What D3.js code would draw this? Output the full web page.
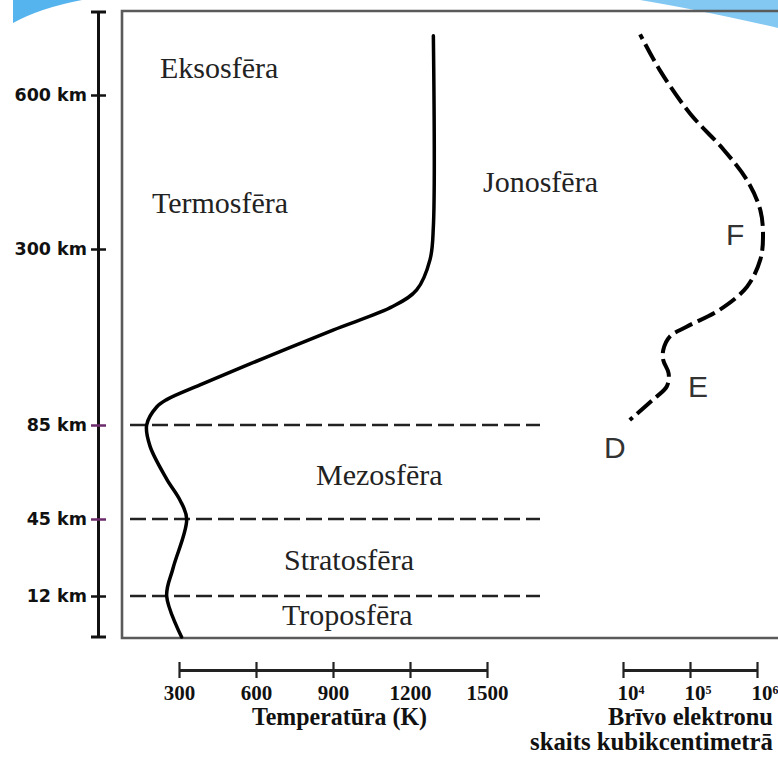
<!DOCTYPE html>
<html>
<head>
<meta charset="utf-8">
<script src="https://cdn.jsdelivr.net/npm/d3@7"></script>
<style>
  body { margin: 0; background: #fff; }
  svg { display: block; }
  .region { font-family: 'Liberation Serif', serif; font-size: 30px; fill: #222; }
  .layer { font-family: 'Liberation Sans', sans-serif; font-size: 30px; fill: #333; }
  .alt-label { font-family: 'DejaVu Sans', sans-serif; font-weight: bold; font-size: 17.5px; }
  .x-axis text { font-family: 'Liberation Serif', serif; font-weight: bold; font-size: 21px; fill: #111; }
  .x-title { font-family: 'Liberation Serif', serif; font-weight: bold; font-size: 25px; fill: #111; }
</style>
</head>
<body>
<div id="chart"></div>
<script>
// altitude ticks (km) on the left ruler
const altTicks = [12, 45, 85, 300, 600];
const altPurple = [45, 85];

// temperature profile: altitude (km) / temperature (K)
const tempAlt = [0, 12, 24, 45, 53, 62, 76, 85, 107, 116, 134, 168, 201, 230, 250, 287, 343, 714];
const tempK = [310, 252, 277, 330, 304, 252, 187, 174, 213, 252, 382, 641, 900, 1134, 1226, 1278, 1291, 1291];

// electron density profile: altitude (km) / electrons per cm3
const elecAlt = [91, 116, 132, 148, 164, 177, 193, 205, 226, 254, 287, 324, 376, 434, 493, 564, 649, 717];
const elecN = [12600, 28000, 45000, 48000, 40000, 40000, 50000, 89000, 280000, 710000, 1120000, 1230000, 1120000, 710000, 320000, 100000, 35000, 18000];

const tempTicks = [300, 600, 900, 1200, 1500];
const elecTicks = [1e4, 1e5, 1e6];
const elecExp = ['4', '5', '6'];

// layer boundaries drawn as dashed lines
const boundaries = [12, 45, 85];

const regions = [
  { name: 'Eksosfēra', alt: 633, x: 160 },
  { name: 'Termosfēra', alt: 371, x: 152 },
  { name: 'Jonosfēra', alt: 411, x: 483 },
  { name: 'Mezosfēra', alt: 59.5, x: 316 },
  { name: 'Stratosfēra', alt: 23, x: 284 },
  { name: 'Troposfēra', alt: 3.5, x: 282 }
];
const layers = [
  { name: 'F', alt: 308, x: 726 },
  { name: 'E', alt: 119, x: 688 },
  { name: 'D', alt: 71, x: 604 }
];

const width = 778;
const height = 757;

const svg = d3
  .select('#chart')
  .append('svg')
  .attr('width', width)
  .attr('height', height);

// slide decoration in the corners
svg
  .append('path')
  .attr('d', 'M13,0 L82,0 Q40,8 13,23 Z')
  .attr('fill', '#55b4ee');
svg
  .append('path')
  .attr('d', 'M640,0 L778,0 L778,28 Q700,10 640,0 Z')
  .attr('fill', '#82c8f3');

// piecewise altitude scale (the ruler is not linear)
const yScale = d3
  .scaleLinear()
  .domain([0, 12, 45, 85, 300, 600, 760])
  .range([637, 596, 519, 425, 249, 95, 12]);

const xTemp = d3.scaleLinear().domain([300, 1500]).range([179, 487]);
const xElec = d3.scaleLog().domain([1e4, 1e6]).range([623, 757]);

// plot frame
svg
  .append('path')
  .attr('d', `M${width + 5},${yScale(760) - 1} L122,${yScale(760) - 1} L122,${yScale(0) + 1} L${width + 5},${yScale(0) + 1}`)
  .attr('fill', 'none')
  .attr('stroke', '#5a5a5a')
  .attr('stroke-width', 2.6);

// left altitude ruler
const ruler = svg
  .append('g')
  .attr('class', 'alt-axis')
  .attr('transform', 'translate(98,0)')
  .call(
    d3.axisLeft(yScale)
      .tickValues(altTicks)
      .tickSize(8)
      .tickSizeOuter(0)
      .tickFormat((d) => `${d} km`)
  );
ruler.select('.domain').attr('stroke', '#111').attr('stroke-width', 3);
ruler
  .selectAll('.tick line')
  .attr('x1', -7)
  .attr('x2', 8)
  .attr('stroke-width', 2.5)
  .attr('stroke', (d) => (altPurple.includes(d) ? '#6b2a6b' : '#111'));
ruler
  .selectAll('.tick text')
  .attr('class', 'alt-label')
  .attr('x', -11)
  .attr('fill', '#111');
ruler
  .selectAll('.cap')
  .data([760, 0])
  .enter()
  .append('line')
  .attr('class', 'cap')
  .attr('x1', -7)
  .attr('x2', 8)
  .attr('y1', (d) => yScale(d))
  .attr('y2', (d) => yScale(d))
  .attr('stroke', '#111')
  .attr('stroke-width', 3);

// layer boundaries
svg
  .selectAll('.boundary')
  .data(boundaries)
  .enter()
  .append('line')
  .attr('class', 'boundary')
  .attr('x1', 130)
  .attr('x2', 540)
  .attr('y1', (d) => yScale(d))
  .attr('y2', (d) => yScale(d))
  .attr('stroke', '#222')
  .attr('stroke-width', 2.6)
  .attr('stroke-dasharray', '16,6');

// region names
svg
  .selectAll('.region')
  .data(regions)
  .enter()
  .append('text')
  .attr('class', 'region')
  .attr('x', (d) => d.x)
  .attr('y', (d) => yScale(d.alt))
  .text((d) => d.name);

svg
  .selectAll('.layer')
  .data(layers)
  .enter()
  .append('text')
  .attr('class', 'layer')
  .attr('x', (d) => d.x)
  .attr('y', (d) => yScale(d.alt))
  .text((d) => d.name);

// temperature curve
const tempLine = d3
  .line()
  .x((d) => xTemp(d[1]))
  .y((d) => yScale(d[0]))
  .curve(d3.curveCatmullRom.alpha(0.5));

svg
  .append('path')
  .datum(tempAlt.map((a, i) => [a, tempK[i]]))
  .attr('d', tempLine)
  .attr('fill', 'none')
  .attr('stroke', '#000')
  .attr('stroke-width', 3.5)
  .attr('stroke-linecap', 'round');

// electron density curve
const elecLine = d3
  .line()
  .x((d) => xElec(d[1]))
  .y((d) => yScale(d[0]))
  .curve(d3.curveCatmullRom.alpha(0.5));

svg
  .append('path')
  .datum(elecAlt.map((a, i) => [a, elecN[i]]))
  .attr('d', elecLine)
  .attr('fill', 'none')
  .attr('stroke', '#000')
  .attr('stroke-width', 4)
  .attr('stroke-dasharray', '19,6')
  .attr('stroke-dashoffset', 15);

// bottom axes
function styleBottomAxis(g) {
  g.select('.domain').attr('stroke', '#222').attr('stroke-width', 2.8);
  g.selectAll('.tick line').attr('y1', -8).attr('y2', 8).attr('stroke', '#222').attr('stroke-width', 2.2);
  g.selectAll('.tick text').attr('y', 30).attr('dy', 0);
}

const tempAxis = svg
  .append('g')
  .attr('class', 'x-axis')
  .attr('transform', 'translate(0,670)')
  .call(d3.axisBottom(xTemp).tickValues(tempTicks).tickSizeOuter(0).tickFormat(d3.format('d')));
styleBottomAxis(tempAxis);

const elecAxis = svg
  .append('g')
  .attr('class', 'x-axis')
  .attr('transform', 'translate(0,670)')
  .call(d3.axisBottom(xElec).tickValues(elecTicks).tickSizeOuter(0).tickFormat(() => ''));
styleBottomAxis(elecAxis);
elecAxis
  .selectAll('.tick text')
  .attr('text-anchor', 'start')
  .attr('x', -6)
  .each(function (d, i) {
    const t = d3.select(this);
    t.append('tspan').text('10');
    t.append('tspan')
      .attr('dy', '-0.5em')
      .style('font-size', '12px')
      .text(elecExp[i]);
  });

svg
  .append('text')
  .attr('class', 'x-title')
  .attr('x', 252)
  .attr('y', 725)
  .attr('textLength', 175)
  .attr('lengthAdjust', 'spacingAndGlyphs')
  .text('Temperatūra (K)');

svg
  .append('text')
  .attr('class', 'x-title')
  .attr('x', 608)
  .attr('y', 725)
  .attr('textLength', 165)
  .attr('lengthAdjust', 'spacingAndGlyphs')
  .text('Brīvo elektronu');

svg
  .append('text')
  .attr('class', 'x-title')
  .attr('x', 530)
  .attr('y', 750)
  .attr('textLength', 243)
  .attr('lengthAdjust', 'spacingAndGlyphs')
  .text('skaits kubikcentimetrā');
</script>
</body>
</html>
